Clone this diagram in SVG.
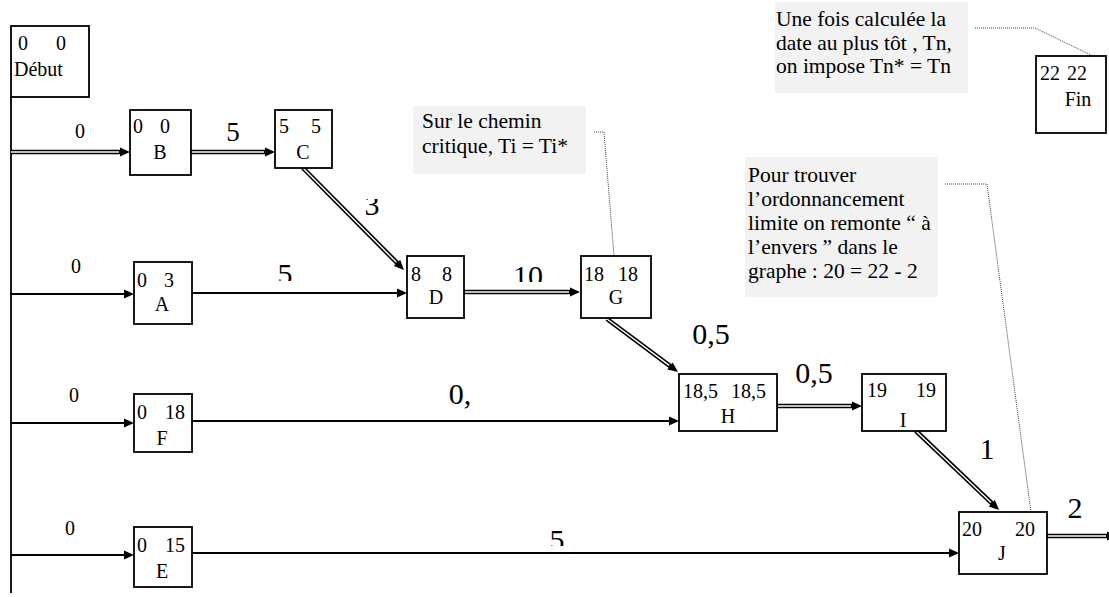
<svg xmlns="http://www.w3.org/2000/svg" width="1109" height="597" viewBox="0 0 1109 597">
  <style>
    .box { fill: #fff; stroke: #000; stroke-width: 1.8; }
    .note { fill: #f2f2f2; stroke: none; }
    .lead { fill: none; stroke: #444; stroke-width: 1; stroke-dasharray: 1 1; }
    .thin { fill: none; stroke: #000; stroke-width: 1.8; }
    .dblo { fill: none; stroke: #000; stroke-width: 4.6; }
    .dbli { fill: none; stroke: #fff; stroke-width: 1.4; }
    text { font-family: "Liberation Serif", "Times New Roman", serif; font-size: 20px; fill: #000; }
    .big { font-size: 30px; }
    .nt { font-size: 21.5px; }
    .m { text-anchor: middle; }
  </style>
  <defs>
    <marker id="ah" markerUnits="userSpaceOnUse" markerWidth="10" markerHeight="9" refX="4" refY="4.5" orient="auto" overflow="visible">
      <path d="M0,0 L10,4.5 L0,9 Z" fill="#000"/>
    </marker>
    <clipPath id="clip3"><rect x="340" y="199" width="60" height="30"/></clipPath>
    <clipPath id="clip5a"><rect x="260" y="250" width="60" height="31"/></clipPath>
    <clipPath id="clip10"><rect x="495" y="250" width="70" height="32"/></clipPath>
    <clipPath id="clip5e"><rect x="530" y="515" width="60" height="31"/></clipPath>
  </defs>

  <!-- explanatory notes -->
  <g id="note-critique">
    <rect class="note" x="413" y="106" width="173" height="68"/>
    <path class="lead" d="M594,132 H604 L614,256"/>
    <text class="nt" x="422" y="128">Sur le chemin</text>
    <text class="nt" x="422" y="153">critique, Ti = Ti*</text>
  </g>
  <g id="note-fin">
    <rect class="note" x="775" y="2" width="193" height="91"/>
    <path class="lead" d="M975,28 H1035 L1093,56"/>
    <text class="nt" x="776" y="26">Une fois calculée la</text>
    <text class="nt" x="776" y="50">date au plus tôt , Tn,</text>
    <text class="nt" x="776" y="73">on impose Tn* = Tn</text>
  </g>
  <g id="note-limite">
    <rect class="note" x="745" y="157" width="193" height="140"/>
    <path class="lead" d="M945,184 H987 L1031,512"/>
    <text class="nt" x="748" y="182">Pour trouver</text>
    <text class="nt" x="748" y="206">l’ordonnancement</text>
    <text class="nt" x="748" y="230">limite on remonte “ à</text>
    <text class="nt" x="748" y="254">l’envers ” dans le</text>
    <text class="nt" x="748" y="278">graphe : 20 = 22 - 2</text>
  </g>

  <!-- connectors -->
  <g id="connectors">
    <!-- start bus -->
    <path class="thin" d="M11,97 V593"/>
    <!-- ordinary arcs -->
    <path class="thin" d="M11,294 H128" marker-end="url(#ah)"/>
    <path class="thin" d="M192,293 H401" marker-end="url(#ah)"/>
    <path class="thin" d="M11,423 H128" marker-end="url(#ah)"/>
    <path class="thin" d="M192,421 H673" marker-end="url(#ah)"/>
    <path class="thin" d="M11,555 H128" marker-end="url(#ah)"/>
    <path class="thin" d="M192,553 H953" marker-end="url(#ah)"/>
    <!-- critical path arcs (double line) -->
    <path class="dblo" d="M11,152 H124" marker-end="url(#ah)"/>
    <path class="dbli" d="M11,152 H119"/>
    <path class="dblo" d="M191,152 H269" marker-end="url(#ah)"/>
    <path class="dbli" d="M192,152 H264"/>
    <path class="dblo" d="M303,168 L399.8,265.7" marker-end="url(#ah)"/>
    <path class="dbli" d="M303,168 L396.3,262.2"/>
    <path class="dblo" d="M464,292 H574" marker-end="url(#ah)"/>
    <path class="dbli" d="M465,292 H569"/>
    <path class="dblo" d="M607,319 L673.2,368.4" marker-end="url(#ah)"/>
    <path class="dbli" d="M607,319 L669.2,365.4"/>
    <path class="dblo" d="M777,406 H856" marker-end="url(#ah)"/>
    <path class="dbli" d="M778,406 H851"/>
    <path class="dblo" d="M916,431 L994.7,505.9" marker-end="url(#ah)"/>
    <path class="dbli" d="M916,431 L991,502.4"/>
    <path class="dblo" d="M1047,536 H1111" marker-end="url(#ah)"/>
    <path class="dbli" d="M1048,536 H1106"/>

    <!-- arc durations -->
    <text class="m" x="80" y="138">0</text>
    <text class="m" x="76" y="273">0</text>
    <text class="m" x="74" y="402">0</text>
    <text class="m" x="70" y="535">0</text>
    <text class="big m" x="233" y="141" style="font-size:27px">5</text>
    <text class="big m" x="711" y="344">0,5</text>
    <text class="big m" x="460" y="404">0,</text>
    <text class="big m" x="814" y="383">0,5</text>
    <text class="big m" x="987" y="459">1</text>
    <text class="big m" x="1075" y="518">2</text>
    <g clip-path="url(#clip3)"><text class="big m" x="372" y="215">3</text></g>
    <g clip-path="url(#clip5a)"><text class="big m" x="285" y="284">5</text></g>
    <g clip-path="url(#clip10)"><text class="big m" x="528" y="286">10</text></g>
    <g clip-path="url(#clip5e)"><text class="big m" x="557" y="550">5</text></g>
  </g>

  <!-- task nodes -->
  <g id="node-debut">
    <rect class="box" x="11" y="26" width="78" height="71"/>
    <text x="18" y="50">0</text><text x="56" y="50">0</text>
    <text x="14" y="76">Début</text>
  </g>
  <g id="node-B">
    <rect class="box" x="130" y="110" width="61" height="65"/>
    <text x="133" y="133">0</text><text x="160" y="133">0</text>
    <text class="m" x="160" y="159">B</text>
  </g>
  <g id="node-C">
    <rect class="box" x="275" y="110" width="57" height="58"/>
    <text x="279" y="133">5</text><text x="311" y="133">5</text>
    <text class="m" x="303" y="159">C</text>
  </g>
  <g id="node-A">
    <rect class="box" x="134" y="262" width="58" height="62"/>
    <text x="137" y="287">0</text><text x="164" y="287">3</text>
    <text class="m" x="162" y="311">A</text>
  </g>
  <g id="node-F">
    <rect class="box" x="134" y="394" width="58" height="58"/>
    <text x="137" y="419">0</text><text x="165" y="419">18</text>
    <text class="m" x="162" y="445">F</text>
  </g>
  <g id="node-E">
    <rect class="box" x="134" y="527" width="58" height="60"/>
    <text x="137" y="552">0</text><text x="165" y="552">15</text>
    <text class="m" x="162" y="578">E</text>
  </g>
  <g id="node-D">
    <rect class="box" x="407" y="256" width="57" height="62"/>
    <text x="411" y="281">8</text><text x="442" y="281">8</text>
    <text class="m" x="436" y="304">D</text>
  </g>
  <g id="node-G">
    <rect class="box" x="581" y="256" width="70" height="62"/>
    <text x="584" y="281">18</text><text x="618" y="281">18</text>
    <text class="m" x="616" y="304">G</text>
  </g>
  <g id="node-H">
    <rect class="box" x="679" y="374" width="98" height="57"/>
    <text x="683" y="398">18,5</text><text x="731" y="398">18,5</text>
    <text class="m" x="728" y="423">H</text>
  </g>
  <g id="node-I">
    <rect class="box" x="862" y="374" width="84" height="57"/>
    <text x="867" y="397">19</text><text x="916" y="397">19</text>
    <text class="m" x="903" y="427">I</text>
  </g>
  <g id="node-J">
    <rect class="box" x="959" y="512" width="88" height="62"/>
    <text x="962" y="536">20</text><text x="1015" y="536">20</text>
    <text class="m" x="1002" y="560">J</text>
  </g>
  <g id="node-fin">
    <rect class="box" x="1036" y="56" width="70" height="77"/>
    <text x="1040" y="80">22</text><text x="1067" y="80">22</text>
    <text class="m" x="1078" y="106">Fin</text>
  </g>
</svg>
